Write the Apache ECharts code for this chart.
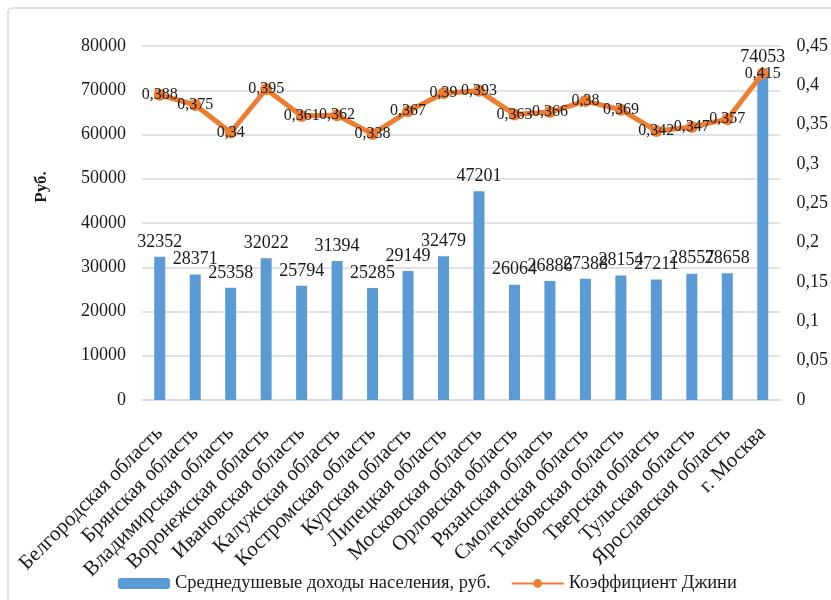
<!DOCTYPE html>
<html>
<head>
<meta charset="utf-8">
<script src="https://cdn.jsdelivr.net/npm/echarts@6/dist/echarts.min.js"></script>
<style>
  html, body { margin: 0; padding: 0; background: #fff; }
  #chart { width: 831px; height: 600px; }
</style>
</head>
<body>
<div id="chart"></div>
<script>
const regions = ['Белгородская область', 'Брянская область', 'Владимирская область', 'Воронежская область',
  'Ивановская область', 'Калужская область', 'Костромская область', 'Курская область', 'Липецкая область',
  'Московская область', 'Орловская область', 'Рязанская область', 'Смоленская область', 'Тамбовская область',
  'Тверская область', 'Тульская область', 'Ярославская область', 'г. Москва']
const incomes = [32352, 28371, 25358, 32022, 25794, 31394, 25285, 29149, 32479, 47201,
  26064, 26886, 27388, 28154, 27211, 28557, 28658, 74053]
const gini = [0.388, 0.375, 0.34, 0.395, 0.361, 0.362, 0.338, 0.367, 0.39, 0.393,
  0.363, 0.366, 0.38, 0.369, 0.342, 0.347, 0.357, 0.415]

const font = 'Liberation Serif'
const txt = '#1a1a1a'
const comma = v => String(v).replace('.', ',')

const option = {
  animation: false,
  textStyle: { fontFamily: font },
  graphic: [{
    type: 'rect',
    shape: { x: 8, y: 8, width: 900, height: 700, r: 4 },
    style: { fill: 'none', stroke: '#d9d9d9', lineWidth: 1.5 }
  }, {
    type: 'text',
    x: 42, y: 187,
    rotation: Math.PI / 2,
    style: {
      text: 'Руб.', font: 'bold 17px "Liberation Serif"', fill: txt,
      align: 'center', verticalAlign: 'middle'
    }
  }],
  grid: { left: 142, right: 50, top: 46, bottom: 200 },
  legend: {
    left: 113,
    bottom: 2,
    itemWidth: 52,
    itemHeight: 11,
    itemGap: 20,
    textStyle: { fontFamily: font, fontSize: 18.5, color: txt },
    data: ['Среднедушевые доходы населения, руб.', 'Коэффициент Джини']
  },
  xAxis: {
    type: 'category',
    data: regions,
    axisTick: { show: false },
    axisLine: { lineStyle: { color: '#d9d9d9', width: 1.5 } },
    axisLabel: { rotate: 45, interval: 0, margin: 30, fontFamily: font, fontSize: 21, color: txt }
  },
  yAxis: [{
    type: 'value',
    min: 0, max: 80000, interval: 10000,
    axisLine: { show: false },
    axisTick: { show: false },
    axisLabel: { margin: 16, fontFamily: font, fontSize: 18, color: txt, formatter: v => String(v) },
    splitLine: { lineStyle: { color: '#d9d9d9', width: 1.5 } }
  }, {
    type: 'value',
    min: 0, max: 0.45, interval: 0.05,
    axisLine: { show: false },
    axisTick: { show: false },
    splitLine: { show: false },
    axisLabel: {
      margin: 16, fontFamily: font, fontSize: 18, color: txt,
      formatter: v => comma(+v.toFixed(2))
    }
  }],
  series: [{
    name: 'Среднедушевые доходы населения, руб.',
    type: 'bar',
    data: incomes,
    barWidth: 11,
    itemStyle: { color: '#5b9bd5' },
    label: { show: true, position: 'top', distance: 6, fontFamily: font, fontSize: 18, color: txt }
  }, {
    name: 'Коэффициент Джини',
    type: 'line',
    yAxisIndex: 1,
    data: gini,
    symbol: 'circle',
    symbolSize: 12,
    lineStyle: { color: '#ed7d31', width: 5 },
    itemStyle: { color: '#ed7d31' },
    label: {
      show: true, position: 'inside', fontFamily: font, fontSize: 16, color: txt,
      formatter: p => comma(p.value)
    }
  }]
}

const chart = echarts.init(document.getElementById('chart'))
chart.setOption(option)
</script>
</body>
</html>
